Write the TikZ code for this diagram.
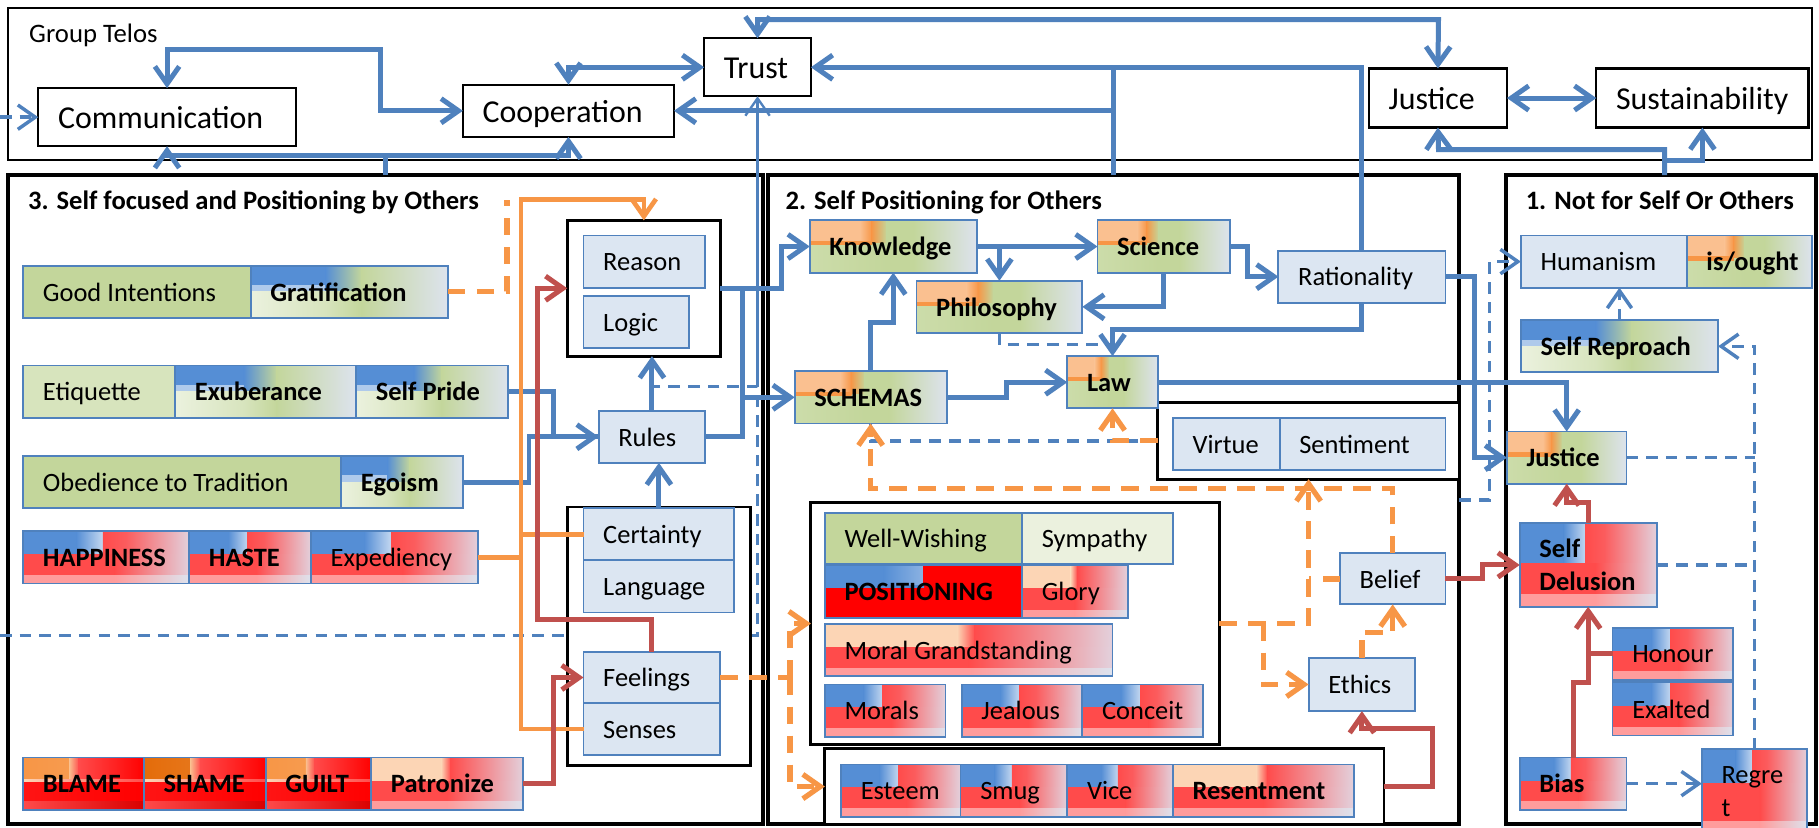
\documentclass[tikz,border=0pt]{standalone}
\usepackage{fontspec}
\setmainfont{Carlito}
\usetikzlibrary{arrows.meta,calc}

\definecolor{lnblue}{HTML}{4F81BD}
\definecolor{bxfill}{HTML}{DCE6F2}
\definecolor{lnorange}{HTML}{F79646}
\definecolor{lnred}{HTML}{C0504D}
\definecolor{grnA}{HTML}{C3D69B}
\definecolor{grnB}{HTML}{D7E4BD}
\definecolor{grnC}{HTML}{EBF1DE}
\definecolor{blA}{HTML}{558ED5}
\definecolor{blB}{HTML}{8DB3E2}
\definecolor{orA}{HTML}{FAC090}
\definecolor{orB}{HTML}{F79646}
\definecolor{orC}{HTML}{E46C0A}
\definecolor{peach}{HTML}{FCD5B5}
\definecolor{rdA}{HTML}{FF4B4B}
\definecolor{rdB}{HTML}{FF0000}
\definecolor{pale}{HTML}{DDE3EE}
\definecolor{pink}{HTML}{E8C0CC}

\pgfdeclarelayer{back}
\pgfsetlayers{back,main}

% one horizontally shaded strip inside a box: x-from, x-to, y-from, y-to (fractions, y from bottom), left colour, right colour
\newcommand\gseg[6]{%
  \shade[left color=#5,right color=#6]
    let \p1=(path picture bounding box.south west),
        \p2=(path picture bounding box.north east) in
    ({\x1+#1*(\x2-\x1)},{\y1+#3*(\y2-\y1)}) rectangle
    ({\x1+#2*(\x2-\x1)+0.6pt},{\y1+#4*(\y2-\y1)});}

% labelled box: [options]{name}{x}{y}{width}{height}{text}
\newcommand\bx[7][]{%
  \pgfmathsetmacro\bxtw{#5-34}%
  \node[item,minimum width=#5pt,minimum height=#6pt,#1] (#2) at (#3,#4) {\makebox[\bxtw pt][l]{#7}};}

\tikzset{
  item/.style={anchor=north west,draw=lnblue,line width=1.6pt,inner xsep=17pt,inner ysep=0pt,
    outer sep=0pt,text height=16pt,text depth=0pt},
  topbox/.style={draw=black,fill=white,line width=2pt,font=\fontsize{27.5}{33}\selectfont,text height=20pt},
  frame/.style={anchor=north west,draw=black,fill=white,inner sep=0pt,outer sep=0pt},
  grp/.style={frame,line width=2.5pt},
  lb/.style={fill=bxfill},
  gA/.style={fill=grnA}, gB/.style={fill=grnB}, gC/.style={fill=grnC},
  gBG/.style={path picture={
    \gseg{0}{0.38}{0.62}{1}{blA}{blA}
    \gseg{0}{0.38}{0.5}{0.62}{blB!70!white}{blB!70!white}
    \gseg{0.38}{0.56}{0.5}{1}{blA}{grnA}
    \gseg{0}{0.38}{0}{0.5}{grnB!50!white}{grnB}
    \gseg{0.38}{0.56}{0}{0.5}{grnB}{grnA}
    \gseg{0.56}{1}{0}{1}{grnA}{pale}}},
  gOG/.style={path picture={
    \gseg{0}{0.3}{0.56}{1}{orA}{orA}
    \gseg{0.3}{0.37}{0.56}{1}{orA}{orB}
    \gseg{0.37}{0.46}{0.56}{1}{orB}{grnA}
    \gseg{0}{0.46}{0}{0.56}{grnA!85!white}{grnA}
    \gseg{0}{0.37}{0.53}{0.59}{orB}{orB}
    \gseg{0.46}{0.62}{0}{1}{grnA}{grnA}
    \gseg{0.62}{1}{0}{1}{grnA}{pale}}},
  gBR/.style={path picture={
    \gseg{0}{0.32}{#1}{1}{blA}{blA}
    \gseg{0.32}{0.48}{#1}{1}{blA}{blB!50!white}
    \gseg{0.48}{0.62}{#1}{1}{rdA}{rdA!85!pink}
    \gseg{0.62}{1}{#1}{1}{rdA!85!pink}{pale!50!pink}
    \gseg{0}{0.55}{0.15}{#1}{rdA}{rdA}
    \gseg{0.55}{1}{0.15}{#1}{rdA}{pale!50!pink}
    \gseg{0}{0.55}{0}{0.15}{rdA!55!white}{rdA!55!white}
    \gseg{0.55}{1}{0}{0.15}{rdA!55!white}{pale}}},
  gBR/.default=0.55,
  gPR/.style={path picture={
    \gseg{0}{0.46}{0.55}{1}{peach}{peach}
    \gseg{0.46}{0.52}{0.55}{1}{peach}{rdA}
    \gseg{0.52}{1}{0.55}{1}{rdA}{pale!50!pink}
    \gseg{0}{0.5}{0.15}{0.55}{rdA}{rdA}
    \gseg{0.5}{1}{0.15}{0.55}{rdA}{pale!50!pink}
    \gseg{0}{0.5}{0}{0.15}{rdA!55!white}{rdA!55!white}
    \gseg{0.5}{1}{0}{0.15}{rdA!55!white}{pale}}},
  gOR/.style={path picture={
    \gseg{0}{0.38}{0.55}{1}{#1}{#1!70!orA}
    \gseg{0.38}{0.46}{0.55}{1}{orA}{rdA}
    \gseg{0.46}{1}{0.55}{1}{rdA}{rdB}
    \gseg{0}{1}{0.52}{0.57}{peach}{rdA}
    \gseg{0}{1}{0.15}{0.52}{rdB!92!white}{rdB}
    \gseg{0}{1}{0}{0.15}{rdA}{rdB!85!black}}},
  gOR/.default=orB,
  gPOS/.style={path picture={
    \gseg{0}{0.3}{0.6}{1}{blA}{blA}
    \gseg{0.3}{0.5}{0.6}{1}{blA}{blB}
    \gseg{0.5}{1}{0.6}{1}{rdB}{rdB}
    \gseg{0}{1}{0}{0.6}{rdB}{rdB}
    \gseg{0}{0.5}{0.57}{0.62}{blA}{blA}}},
  tip/.style={-{Straight Barb[length=15pt,width=21pt]}},
  tips/.style={{Straight Barb[length=15pt,width=21pt]}-{Straight Barb[length=15pt,width=21pt]}},
  bl/.style={draw=lnblue,line width=4.3pt},
  blt/.style={draw=lnblue,line width=2pt},
  bld/.style={draw=lnblue,line width=3pt,dash pattern=on 10pt off 7pt},
  orl/.style={draw=lnorange,line width=4pt},
  ord/.style={draw=lnorange,line width=4.5pt,dash pattern=on 15pt off 10pt},
  rdl/.style={draw=lnred,line width=4.3pt},
  hdr/.style={anchor=base west,inner sep=0pt,font=\fontsize{22.9}{27}\selectfont\bfseries},
}

\begin{document}
\begin{tikzpicture}[x=1pt,y=-1pt,font=\fontsize{22.8}{27}\selectfont]
\useasboundingbox (0,0) rectangle (1568,713);

% ---------- frames ----------
\begin{pgfonlayer}{back}
  \fill[white] (0,0) rectangle (1568,713);
  \node[frame,line width=1.8pt,minimum width=1555pt,minimum height=131pt] (telos) at (7,7) {};
  \node[frame,line width=3.5pt,minimum width=651pt,minimum height=559pt] (p3) at (7,151) {};
  \node[frame,line width=3.5pt,minimum width=596pt,minimum height=559pt] (p2) at (662,151) {};
  \node[frame,line width=3.5pt,minimum width=267pt,minimum height=559pt] (p1) at (1298,151) {};
\end{pgfonlayer}

\node[anchor=base west,inner sep=0pt,font=\fontsize{23}{27}\selectfont] (telosname) at (25,37) {Group Telos};
\node[hdr] (h3) at (24,181) {3. Self focused and Positioning by Others};
\node[hdr] (h2) at (677,181) {2. Self Positioning for Others};
\node[hdr] (h1) at (1315,181) {1. Not for Self Or Others};

% ---------- group telos ----------
\bx[topbox]{comm}{33}{76}{222}{50}{Communication}
\bx[topbox]{coop}{399}{73}{182}{45}{Cooperation}
\bx[topbox]{trust}{607}{33}{92}{50}{Trust}
\bx[topbox]{justT}{1180}{59}{119}{51}{Justice}
\bx[topbox]{sust}{1376}{59}{183}{51}{Sustainability}

% ---------- grouping frames ----------
\node[grp,minimum width=132pt,minimum height=117pt] (rgrp) at (489,190) {};
\node[grp,minimum width=158pt,minimum height=223pt] (cgrp) at (489,437) {};
\node[grp,minimum width=260pt,minimum height=66pt] (vgrp) at (998,347) {};
\node[grp,minimum width=352pt,minimum height=209pt] (wgrp) at (699,433) {};
\node[grp,minimum width=482pt,minimum height=66pt] (egrp) at (711,645) {};

% ---------- panel 3 ----------
\bx[gA]{gi}{20}{229}{196}{45}{Good Intentions}
\bx[gBG]{grat}{216}{229}{170}{45}{\bfseries Gratification}
\bx[gB]{etq}{20}{315}{131}{45}{Etiquette}
\bx[gBG]{exub}{151}{315}{156}{45}{\bfseries Exuberance}
\bx[gBG]{spride}{307}{315}{131}{45}{\bfseries Self Pride}
\bx[gA]{obed}{20}{393}{274}{45}{Obedience to Tradition}
\bx[gBG]{ego}{294}{393}{105}{45}{\bfseries Egoism}
\bx[gBR]{happy}{20}{458}{143}{45}{\bfseries HAPPINESS}
\bx[gBR]{haste}{163}{458}{105}{45}{\bfseries HASTE}
\bx[gBR]{exped}{268}{458}{144}{45}{Expediency}
\bx[gOR]{blame}{20}{653}{104}{45}{\bfseries BLAME}
\bx[gOR=orC]{shame}{124}{653}{105}{45}{\bfseries SHAME}
\bx[gOR]{guilt}{229}{653}{91}{45}{\bfseries GUILT}
\bx[gPR]{patr}{320}{653}{131}{45}{\bfseries Patronize}
\bx[lb]{reason}{503}{203}{105}{45}{Reason}
\bx[lb]{logic}{503}{255}{91}{45}{Logic}
\bx[lb]{rules}{516}{354}{92}{45}{Rules}
\bx[lb]{cert}{503}{438}{130}{45}{Certainty}
\bx[lb]{lang}{503}{483}{130}{45}{Language}
\bx[lb]{feel}{503}{562}{118}{44}{Feelings}
\bx[lb]{sens}{503}{606}{118}{45}{Senses}

% ---------- panel 2 ----------
\bx[gOG]{know}{698}{190}{144}{45}{\bfseries Knowledge}
\bx[gOG]{sci}{946}{190}{114}{45}{\bfseries Science}
\bx[gOG]{phil}{790}{242}{143}{45}{\bfseries Philosophy}
\bx[lb]{ratio}{1102}{216}{144}{45}{Rationality}
\bx[gOG]{schem}{685}{320}{131}{45}{\bfseries SCHEMAS}
\bx[gOG]{law}{920}{307}{78}{45}{\bfseries Law}
\bx[lb]{virtue}{1011}{360}{92}{45}{Virtue}
\bx[lb]{sent}{1103}{360}{143}{45}{Sentiment}
\bx[gA]{well}{711}{442}{170}{44}{Well-Wishing}
\bx[gC]{symp}{881}{442}{130}{44}{Sympathy}
\bx[gPOS]{posit}{711}{487}{170}{46}{\bfseries POSITIONING}
\bx[gPR]{glory}{881}{487}{91}{46}{Glory}
\bx[gPR]{moral}{711}{538}{248}{45}{Moral Grandstanding}
\bx[gBR]{morals}{711}{590}{104}{45}{Morals}
\bx[gBR]{jeal}{829}{590}{104}{45}{Jealous}
\bx[gBR]{conc}{933}{590}{104}{45}{Conceit}
\bx[gBR]{esteem}{725}{659}{103}{45}{Esteem}
\bx[gBR]{smug}{828}{659}{92}{45}{Smug}
\bx[gBR]{vice}{920}{659}{91}{45}{Vice}
\bx[gPR]{resent}{1011}{659}{156}{45}{\bfseries Resentment}
\bx[lb]{belief}{1155}{477}{91}{44}{Belief}
\bx[lb]{ethics}{1128}{567}{92}{46}{Ethics}

% ---------- panel 1 ----------
\bx[lb]{human}{1311}{203}{143}{45}{Humanism}
\bx[gOG]{isought}{1454}{203}{108}{45}{\bfseries is/ought}
\bx[gBG]{srep}{1311}{276}{170}{45}{\bfseries Self Reproach}
\bx[gOG]{justP}{1299}{372}{103}{45}{\bfseries Justice}
\node[item,gBR=0.52,minimum width=118pt,minimum height=72pt,text height=,text depth=,align=left,
  font=\fontsize{22.8}{29}\selectfont\bfseries] (sdel) at (1310,451) {\parbox{84pt}{Self\\Delusion}};
\bx[gBR]{honour}{1390}{541}{104}{45}{Honour}
\bx[gBR]{exalt}{1390}{588}{104}{46}{Exalted}
\bx[gBR]{bias}{1310}{653}{92}{45}{\bfseries Bias}
\node[item,gBR=0.6,minimum width=91pt,minimum height=73pt,text height=,text depth=,align=left,
  font=\fontsize{22.8}{28}\selectfont] (regret) at (1467,646) {\parbox{57pt}{Regre\\t}};

% ---------- free ends and junctions ----------
\coordinate (edgeA) at (0,548);
\coordinate (edgeB) at (0,101);
\coordinate (tj) at (653,333);
\coordinate (p3top) at (332,151);
\coordinate (p2top) at (960,151);
\coordinate (p1top) at (1435,151);
\coordinate (sj) at (1435,138);
\coordinate (cj) at (960,95.5);
\coordinate (p2edge) at (1258,431);

% long dashed feedback running behind the frames
\begin{pgfonlayer}{back}
  \draw[bld] (edgeA) -- (653,548) -- (tj) -- (562,333);
\end{pgfonlayer}
\draw[bld,tip] (edgeB) -- (comm.west);

% ---------- group telos links ----------
\draw[bl,tips] (comm.north) |- (328,43) |- (coop.west);
\draw[bl,tips] (coop.north) |- (trust.west);
\draw[bl,tips] (trust.north) |- (1240,17) -- (justT.north);
\draw[bl,tips] (justT.east) -- (sust.west);
\draw[bl,tip] (p1top) |- (1240,129) -- (justT.south);
\draw[bl,tip] (sj) -| (sust.south);
\draw[bl,tip] (ratio.north) |- (trust.east);
\draw[bl] (p2top) -- (960,58);
\draw[bl,tip] (cj) -- (coop.east);
\draw[bl,tip] (p3top) |- (144,134) -- (comm.south);
\draw[bl,tip] (332,134) -| (coop.south);
\draw[blt,tip] (tj) -- (trust.south);

% ---------- panel 3 links ----------
\draw[bl,tip] (rules.north) -- (rules.north |- rgrp.south);
\draw[bl,tip] (cgrp.north) -- (cgrp.north |- rules.south);
\draw[bl,tip] (spride.east) -- (477,337.5) |- (rules.west);
\draw[bl] (ego.east) -- (456,415.5) |- (rules.west);
\draw[bl,tip] (rules.east) -- (640,376.5) |- (schem.west);
\draw[bl] (640,376.5) -- (640,248.5);
\draw[bl,tip] (rgrp.east) -- (674,248.5) |- (know.west);
\draw[orl,tip] (sens.west) -| (449,172) -| (rgrp.north);
\draw[orl] (exped.east) -- (449,480.5);
\draw[orl] (cert.west) -- (449,460.5);
\draw[ord] (grat.east) -- (437,251.5) -- (437,172);
\draw[rdl,tip] (feel.north) |- (463,534) |- (rgrp.west);
\draw[rdl,tip] (patr.east) -- (477,675.5) |- (feel.west);

% ---------- panel 2 links ----------
\draw[bl,tip] (know.east) -- (sci.west);
\draw[bl,tip] (phil.north |- know.east) -- (phil.north);
\draw[bl,tip] (sci.east) -- (1075,212.5) |- (ratio.west);
\draw[bl,tip] (sci.south) |- (phil.east);
\draw[bl,tip] (ratio.south) |- (959,284) -- (law.north);
\draw[bld] (phil.south) |- (959,297);
\draw[bl,tip] (schem.east) -- (868,342.5) |- (law.west);
\draw[bl,tip] (schem.north) |- (770,278) -- (know.south);
\draw[bl,tip] (law.east) -| (justP.north);
\draw[bl,tip] (ratio.east) -- (1271,238.5) |- (justP.west);
\draw[bld] (vgrp.west) -| (schem.south);
\draw[ord,tip] (vgrp.west) -| (law.south);
\draw[ord,tip] (belief.north) |- (750.5,421) -- (schem.south);
\draw[ord,tip] (wgrp.east) -| (vgrp.south);
\draw[ord,tip] (1089,537.5) |- (ethics.west);
\draw[ord,tip] (ethics.north) |- (1200.5,545) -- (belief.south);
\draw[ord] (belief.west) -- (1128,499);
\draw[ord] (feel.east) -- (681,584);
\draw[ord,tip] (681,584) |- (wgrp.west);
\draw[ord,tip] (681,584) |- (egrp.west);
\draw[rdl,tip] (egrp.east) -- (1235,678) |- (1174,628) -- (ethics.south);
\draw[rdl,tip] (belief.east) -- (1278,499) |- (sdel.west);

% ---------- panel 1 links ----------
\draw[bld,tip] (p2edge) -- (1284,431) |- (human.west);
\draw[bld,tip] (srep.north) -- (srep.north |- human.south);
\draw[bld,tip] (regret.north) |- (srep.east);
\draw[bld] (justP.east) -- (justP.east -| regret.north);
\draw[bld] (sdel.east) -- (sdel.east -| regret.north);
\draw[bld,tip] (bias.east) -- (bias.east -| regret.west);
\draw[rdl,tip] (sdel.north) |- (1350.5,433) -- (justP.south);
\draw[rdl,tip] (bias.north) |- (1369,588) -- (sdel.south);
\draw[rdl] (honour.west) -- (1369,563.5);
\end{tikzpicture}
\end{document}
